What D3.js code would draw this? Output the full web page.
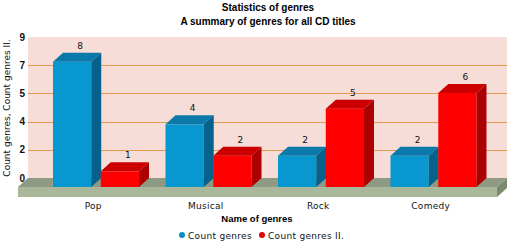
<!DOCTYPE html>
<html><head><meta charset="utf-8">
<script src="https://cdn.jsdelivr.net/npm/d3@7"></script>
<style>body{margin:0;background:#fff}svg{display:block}</style>
</head><body>
<svg id="c" width="510" height="243"></svg>
<script>
const categories = ["Pop", "Musical", "Rock", "Comedy"];
const seriesNames = ["Count genres", "Count genres II."];
const countGenres = [8, 4, 2, 2];
const countGenresII = [1, 2, 5, 6];
const tickValues = [0, 1.8, 3.6, 5.4, 7.2, 9];
const tickLabels = ["0", "2", "4", "5", "7", "9"];
const titleText = "Statistics of genres";
const subtitleText = "A summary of genres for all CD titles";
const xTitle = "Name of genres";
const yTitle = "Count genres, Count genres II.";

const colors = [
  {front: "#0898cf", top: "#0b79a9", side: "#06628b"},
  {front: "#ff0000", top: "#cc0000", side: "#ad0000"}
];

const svg = d3.select("#c");
const DX = 10, DY = 9;               // 3D depth offset (back = front + (DX,-DY))
const wallL = 28, wallR = 507;

const y = d3.scaleLinear().domain([0, 9]).range([178, 37]);   // back wall
const x0 = d3.scaleBand().domain(categories).range([40, 490]);
const x1 = d3.scaleBand().domain(seriesNames).range([13, 99]).paddingInner(0.2);

// titles
svg.append("text").attr("x", 268).attr("y", 11).attr("text-anchor", "middle")
  .attr("font-family", "Liberation Sans, Arial, sans-serif").attr("font-weight", "bold")
  .attr("font-size", 10).text(titleText);
svg.append("text").attr("x", 268).attr("y", 25).attr("text-anchor", "middle")
  .attr("font-family", "Liberation Sans, Arial, sans-serif").attr("font-weight", "bold")
  .attr("font-size", 10).text(subtitleText);

// back wall
svg.append("rect").attr("x", wallL).attr("y", y(9)).attr("width", wallR - wallL)
  .attr("height", y(0) - y(9)).attr("fill", "#f6ddd7");

// gridlines
svg.append("g").selectAll("line").data(tickValues.filter(v => v > 0 && v < 9)).join("line")
  .attr("x1", wallL).attr("x2", wallR).attr("y1", d => Math.round(y(d)) + 0.5).attr("y2", d => Math.round(y(d)) + 0.5)
  .attr("stroke", "#e39a4f").attr("stroke-width", 1.2);

// tick labels
svg.append("g").selectAll("text").data(tickValues).join("text")
  .attr("x", 25).attr("y", d => y(d) + 3.5).attr("text-anchor", "end")
  .attr("font-family", "Liberation Sans, Arial, sans-serif").attr("font-weight", "bold")
  .attr("font-size", 10).attr("fill", "#111")
  .text((d, i) => tickLabels[i]);

// floor
const fb = y(0), ff = y(0) + DY, th = 10;
svg.append("polygon").attr("points", [[wallL, fb], [wallR, fb], [wallR - DX, ff], [wallL - DX, ff]].join(" "))
  .attr("fill", "#8e9a83");
svg.append("rect").attr("x", wallL - DX).attr("y", ff).attr("width", wallR - wallL).attr("height", th)
  .attr("fill", "#a9b79a");
svg.append("polygon").attr("points", [[wallR - DX, ff], [wallR, fb], [wallR, fb + th], [wallR - DX, ff + th]].join(" "))
  .attr("fill", "#7b896f");

// bars
const rows = categories.map((c, i) => ({cat: c, vals: [countGenres[i], countGenresII[i]]}));
const bars = [];
rows.forEach(r => r.vals.forEach((v, si) => bars.push({cat: r.cat, s: seriesNames[si], si, v})));

const g = svg.append("g");
bars.forEach(b => {
  const xl = x0(b.cat) + x1(b.s), w = x1.bandwidth();
  const yt = y(b.v) + DY, yb = y(0) + DY;
  const c = colors[b.si];
  g.append("rect").attr("x", xl).attr("y", yt).attr("width", w).attr("height", yb - yt).attr("fill", c.front);
  g.append("polygon").attr("points", [[xl, yt], [xl + DX, yt - DY], [xl + w + DX, yt - DY], [xl + w, yt]].join(" "))
    .attr("fill", c.top);
  g.append("polygon").attr("points", [[xl + w, yt], [xl + w + DX, yt - DY], [xl + w + DX, yb - DY], [xl + w, yb]].join(" "))
    .attr("fill", c.side);
  g.append("text").attr("x", xl + w / 2 + 8).attr("y", yt - DY - 4).attr("text-anchor", "middle")
    .attr("font-family", "DejaVu Sans, Verdana, sans-serif").attr("font-size", 9).attr("fill", "#111")
    .text(b.v);
});

// category labels
svg.append("g").selectAll("text").data(categories).join("text")
  .attr("x", d => x0(d) + x0.bandwidth() / 2 - 3).attr("y", 209).attr("text-anchor", "middle")
  .attr("font-family", "DejaVu Sans, Verdana, sans-serif").attr("font-size", 9).attr("fill", "#111")
  .attr("letter-spacing", 0.3)
  .text(d => d);

// axis titles
svg.append("text").attr("x", 257).attr("y", 222).attr("text-anchor", "middle")
  .attr("font-family", "Liberation Sans, Arial, sans-serif").attr("font-weight", "bold")
  .attr("font-size", 9.5).text(xTitle);
svg.append("text").attr("transform", "translate(10,108) rotate(-90)").attr("text-anchor", "middle")
  .attr("font-family", "DejaVu Sans, Verdana, sans-serif").attr("font-size", 9).attr("fill", "#111")
  .text(yTitle);

// legend
const legX = [182, 262];
seriesNames.forEach((s, i) => {
  svg.append("circle").attr("cx", legX[i]).attr("cy", 235).attr("r", 3).attr("fill", colors[i].front === "#ff0000" ? "#e00000" : "#0a8fc4");
  svg.append("text").attr("x", legX[i] + 6).attr("y", 239)
    .attr("font-family", "DejaVu Sans, Verdana, sans-serif").attr("font-size", 9).attr("fill", "#111")
    .attr("letter-spacing", 0.3)
    .text(s);
});
</script>
</body></html>
